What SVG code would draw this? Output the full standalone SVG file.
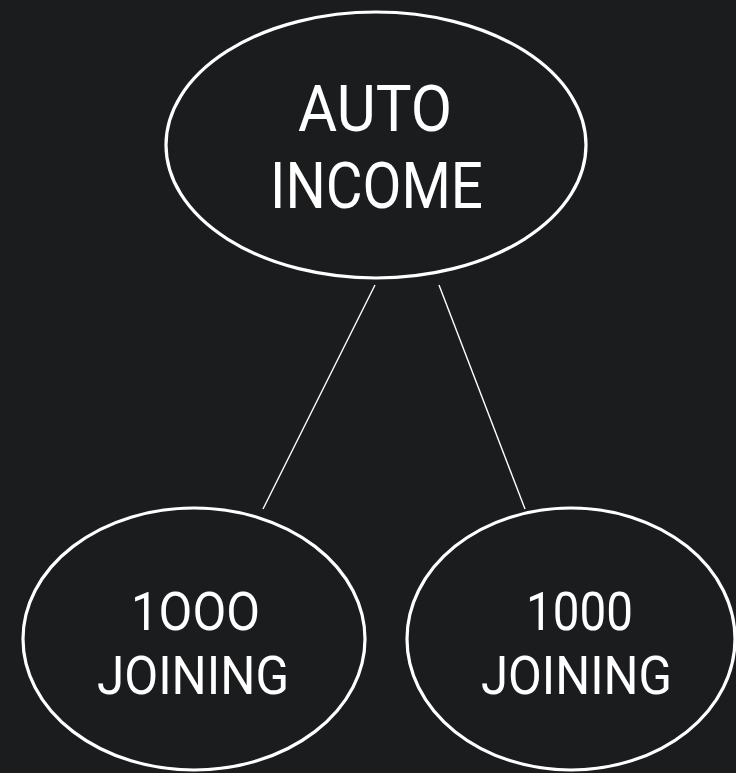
<svg xmlns="http://www.w3.org/2000/svg" width="736" height="773" viewBox="0 0 736 773">
<style>
.bg{fill:#1b1c1e}
.node{fill:#1b1c1e;stroke:#ffffff;stroke-width:3.2}
.edge{stroke:#ffffff;stroke-width:1.4;fill:none}
.lbl{fill:#ffffff;font-family:Roboto,"DejaVu Sans",sans-serif;text-anchor:middle}
</style>
<rect class="bg" x="0" y="0" width="736" height="773"/>
<g id="connectors">
<line class="edge" x1="375" y1="285" x2="263" y2="509"/>
<line class="edge" x1="439" y1="285" x2="525" y2="509"/>
</g>
<g id="node-auto-income">
<ellipse class="node" cx="376" cy="145" rx="210" ry="133"/>
<text class="lbl" x="375" y="131" font-size="64" textLength="154" lengthAdjust="spacingAndGlyphs">AUTO</text>
<text class="lbl" x="376.5" y="208" font-size="64" textLength="213" lengthAdjust="spacingAndGlyphs">INCOME</text>
</g>
<g id="node-left">
<ellipse class="node" cx="194" cy="639" rx="171" ry="131"/>
<text class="lbl" x="195.5" y="630" font-size="54" textLength="129" lengthAdjust="spacingAndGlyphs">1OOO</text>
<text class="lbl" x="193" y="694" font-size="54" textLength="192" lengthAdjust="spacingAndGlyphs">JOINING</text>
</g>
<g id="node-right">
<ellipse class="node" cx="571" cy="639" rx="164" ry="131"/>
<text class="lbl" x="579.5" y="630" font-size="54" textLength="107" lengthAdjust="spacingAndGlyphs">1000</text>
<text class="lbl" x="576.5" y="694" font-size="54" textLength="191" lengthAdjust="spacingAndGlyphs">JOINING</text>
</g>
</svg>
